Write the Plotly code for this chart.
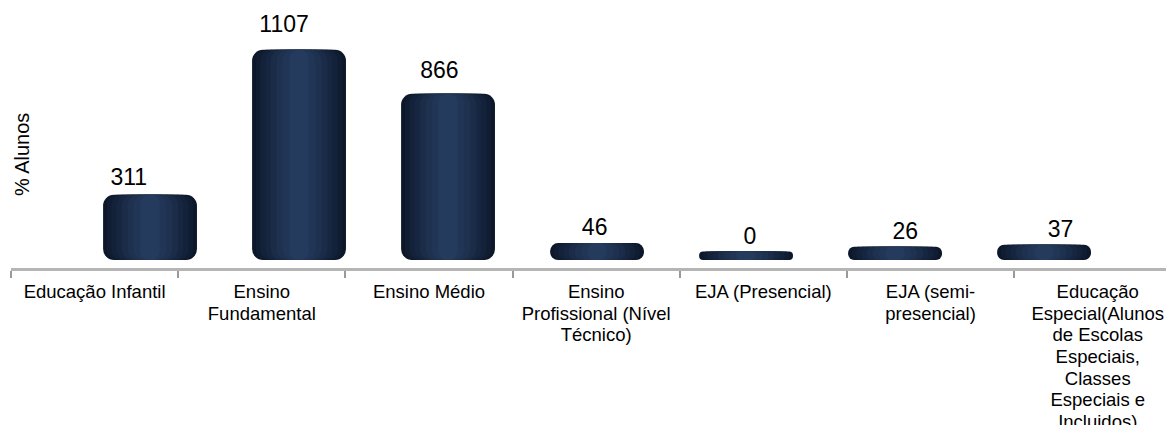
import plotly.graph_objects as go

categories = [
    "Educação Infantil",
    "Ensino Fundamental",
    "Ensino Médio",
    "Ensino Profissional (Nível Técnico)",
    "EJA (Presencial)",
    "EJA (semi-presencial)",
    "Educação Especial(Alunos de Escolas Especiais, Classes Especiais e Incluidos)",
]
tick_lines = [
    ["Educação Infantil"],
    ["Ensino", "Fundamental"],
    ["Ensino Médio"],
    ["Ensino", "Profissional (Nível", "Técnico)"],
    ["EJA (Presencial)"],
    ["EJA (semi-", "presencial)"],
    ["Educação", "Especial(Alunos", "de Escolas", "Especiais,", "Classes",
     "Especiais e", "Incluidos)"],
]
values = [311, 1107, 866, 46, 0, 26, 37]
y_title = "% Alunos"

FONT = "Liberation Sans, Arial, sans-serif"
GLYPH = 18.5  # glyph size of the category labels (line pitch set by base font)
tick_labels = [
    "<br>".join(f"<span style='font-size:{GLYPH}px'>{ln}</span>" for ln in lines)
    for lines in tick_lines
]

CAP = 47      # depth of the cylinder's bottom ellipse, in axis units

# shading layers (outer -> inner) to imitate the cylinder look
widths = [0.63, 0.58, 0.52, 0.45, 0.38, 0.30, 0.22, 0.13]
c0 = (0x0c, 0x17, 0x2a)
c1 = (0x25, 0x3b, 0x5e)
layers = []
for i, w in enumerate(widths):
    t = i / (len(widths) - 1)
    rgb = tuple(round(a + (b - a) * t) for a, b in zip(c0, c1))
    layers.append((w, "#%02x%02x%02x" % rgb))

fig = go.Figure()

# invisible trace to register categories on the labelled axis
fig.add_trace(go.Scatter(x=categories, y=values, mode="none", xaxis="x",
                         yaxis="y", hoverinfo="skip", showlegend=False))

n = len(values)
for w, col in layers:
    fig.add_trace(go.Bar(
        x=categories, y=[v + CAP for v in values], base=[-CAP] * n,
        width=w, xaxis="x2", yaxis="y",
        marker=dict(color=col, line=dict(width=0), cornerradius=11),
        hoverinfo="skip", showlegend=False))

# value labels
fig.add_trace(go.Scatter(
    x=categories, y=values, mode="text", text=[str(v) for v in values],
    textposition="top center", xaxis="x3", yaxis="y2",
    textfont=dict(family=FONT, size=23, color="#000000"),
    hoverinfo="skip", showlegend=False, cliponaxis=False))

fig.update_layout(
    width=1166, height=417,
    margin=dict(l=3, r=0, t=2, b=157),
    paper_bgcolor="white", plot_bgcolor="white",
    barmode="overlay",
    showlegend=False,
    font=dict(family=FONT, color="#000000"),
    xaxis=dict(
        type="category", range=[-0.5, 6.456],
        tickmode="array", tickvals=categories, ticktext=tick_labels,
        tickson="boundaries", ticks="outside", ticklen=7, tickwidth=1.5,
        tickcolor="#9a9a9a", showline=True, linecolor="#b5b5b5", linewidth=2.5,
        showgrid=False, zeroline=False, automargin=False,
        tickfont=dict(family=FONT, size=16.7, color="#000000"),
        ticklabelstandoff=7,
    ),
    xaxis2=dict(type="category", overlaying="x", anchor="y",
                range=[-0.933, 6.872], visible=False),
    xaxis3=dict(type="category", overlaying="x", anchor="y",
                range=[-0.758, 6.730], visible=False),
    yaxis=dict(range=[-91, 1326], visible=False, showgrid=False,
               zeroline=False, fixedrange=True),
    yaxis2=dict(range=[-94, 1253], overlaying="y", anchor="x",
                visible=False, showgrid=False, zeroline=False),
    annotations=[dict(
        text=y_title, xref="paper", yref="paper", x=0.0095, y=0.438,
        xanchor="center", yanchor="middle", textangle=-90, showarrow=False,
        font=dict(family=FONT, size=20, color="#000000"))],
)

fig.write_html("out.html")
